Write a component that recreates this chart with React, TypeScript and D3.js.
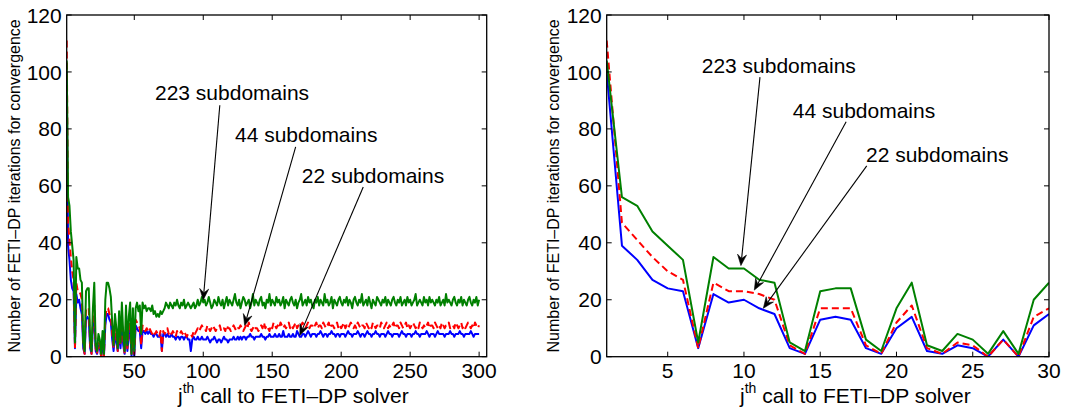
import React from "react";
import * as d3 from "d3";

// ---------- data ----------
// first 30 calls (also shown in the right panel)
const green30 = [104,56,53,44,39,34,5,35,31,31,27,26,5,2,23,24,24,6,2,17,26,4,2,8,6,1,9,1,20,26];
const red30 = [111,47,41,35,30,27,3,26,23,23,22,20,4,1,17,17,17,4,1,12,18,3,1,5,4,0,6,0,14,17];
const blue30 = [100,39,34,27,24,23,3,22,19,20,17,15,3,1,13,14,13,3,1,10,14,2,1,4,3,0,6,0,11,15];

// calls 31..300 (left panel only)
const greenTail = [
  26,24,21,12,4,15,10,3,16,5, 19,8,2,18,4,14,19,1,17,2,
  17,19,16,18,8,19,17,18,16,17, 17,16,18,15,16,14,15,14,16,15,
  16,17,19,18,17,19,18,17,19,18, 20,18,17,19,18,20,17,18,19,18,
  17,18,19,17,18,20,18,19,21,19,
  20,18,19,21,19,17,18,20,19,18,21,19,18,20,17,19,21,18,20,19,
  18,20,22,19,18,20,17,19,21,20,18,19,20,17,19,22,18,20,19,18,
  20,21,18,19,17,20,19,22,18,20,19,18,21,19,20,18,19,21,17,20,
  19,18,20,21,19,18,20,17,19,20,22,18,19,20,18,21,19,20,18,17,
  20,19,21,18,20,19,18,22,19,20,18,19,21,17,20,19,18,20,21,19,
  18,20,19,21,18,20,19,17,20,21,19,18,20,19,22,18,19,20,18,21,
  19,17,20,19,18,21,20,19,18,20,19,21,18,20,19,18,20,21,19,18,
  20,19,21,18,19,20,18,21,19,20,18,19,20,22,18,19,20,19,18,21,
  19,20,18,21,19,20,19,18,20,19,21,18,19,20,18,22,19,20,19,18,
  20,21,19,18,20,19,21,18,20,19,18,20,21,19,18,20,19,21,18,20,
];
const redTail = [
  17,15,14,8,3,10,7,2,11,4, 12,6,1,11,3,9,12,1,10,1,
  13,12,11,10,4,11,10,9,10,9, 10,9,8,9,8,9,8,7,9,2,
  9,8,9,10,8,9,8,9,8,7, 9,8,8,9,8,9,8,7,8,8,
  8,7,9,8,9,10,9,10,11,10,
  10,9,11,10,9,10,11,10,9,10,10,11,9,10,10,9,11,10,10,9,
  10,11,10,9,10,10,11,10,9,10,11,10,12,10,9,10,11,10,10,9,
  10,11,10,12,10,11,10,9,11,10,12,11,10,11,10,12,11,10,11,10,
  11,12,10,11,10,11,12,10,11,10,11,12,11,10,11,12,10,11,11,10,
  11,12,10,11,11,10,12,11,10,11,12,10,11,11,10,11,12,10,11,10,
  11,12,10,11,10,11,12,11,10,11,10,12,11,10,11,11,10,12,11,10,
  11,10,12,11,10,11,11,10,12,11,10,11,12,10,11,10,11,12,10,11,
  11,10,12,11,10,11,12,10,11,10,11,12,11,10,11,10,12,11,10,11,
  10,11,12,10,11,11,10,12,11,10,11,10,12,11,10,11,11,12,10,11,
  11,10,12,11,10,11,12,10,11,10,11,12,11,10,11,10,12,11,10,11,
];
const blueTail = [
  15,13,12,6,2,8,5,2,9,3, 10,4,1,9,2,7,10,0,9,0,
  11,10,9,9,3,9,9,8,9,8, 9,8,8,7,8,8,7,7,8,2,
  8,8,7,8,7,7,8,7,7,6, 7,7,6,7,7,6,7,7,6,6,
  2,6,7,6,6,7,6,6,7,6,
  6,6,7,6,5,6,6,7,6,5,6,6,5,6,7,6,6,5,6,6,
  6,7,6,6,7,6,7,6,7,7,6,7,7,8,7,7,6,7,7,7,
  7,8,7,7,6,7,7,8,7,7,7,8,7,7,8,7,7,9,7,7,
  7,8,7,7,8,7,7,9,8,7,7,8,8,7,8,9,8,7,8,8,
  8,7,8,8,9,8,7,8,8,7,8,8,9,8,8,7,8,8,7,8,
  8,8,7,8,9,8,8,7,8,8,8,9,8,7,8,8,7,8,9,8,
  8,7,8,8,9,8,8,7,8,8,8,7,8,9,8,8,7,8,8,8,
  8,7,8,9,8,8,7,8,8,8,7,8,8,9,8,8,7,8,8,8,
  8,9,8,7,8,8,8,7,8,9,8,8,8,8,7,8,8,8,9,8,
  8,7,8,8,8,9,8,8,7,8,8,8,8,9,8,7,8,8,8,8,
];

const leftXTicks = [50, 100, 150, 200, 250, 300];
const rightXTicks = [5, 10, 15, 20, 25, 30];
const yTicks = [0, 20, 40, 60, 80, 100, 120];

const labels = ["223 subdomains", "44 subdomains", "22 subdomains"];
// annotation positions in data coordinates: text start, arrow tail, arrow tip
const leftTextX = [65, 123, 171.4];
const leftTextY = [90, 75.3, 61];
const leftTailX = [112, 167, 216];
const leftTailY = [88.3, 73.7, 59.6];
const leftTipX = [100, 130, 170];
const leftTipY = [20, 11, 7.5];

const rightTextX = [7.23, 13.2, 18.0];
const rightTextY = [99.8, 84, 68.4];
const rightTailX = [11.05, 16.7, 18.05];
const rightTailY = [98.2, 82.5, 67];
const rightTipX = [9.8, 10.68, 11.27];
const rightTipY = [32, 23.4, 17];

const FONT = "'Liberation Sans', Arial, Helvetica, sans-serif";
const TOP = 15;
const BOTTOM = 356.7;

type PanelProps = {
  x0: number; x1: number; xDomain: [number, number]; xTicks: number[];
  green: number[]; red: number[]; blue: number[];
  textX: number[]; textY: number[]; tailX: number[]; tailY: number[]; tipX: number[]; tipY: number[];
  yLabelX: number; xLabelX: number; id: string;
};

function Arrow({ x1, y1, x2, y2 }: { x1: number; y1: number; x2: number; y2: number }) {
  const ang = Math.atan2(y2 - y1, x2 - x1);
  const L = 11, Wd = 4.5, notch = 7;
  const ux = Math.cos(ang), uy = Math.sin(ang);
  const px = -uy, py = ux;
  const bx = x2 - ux * L, by = y2 - uy * L;
  const nx = x2 - ux * notch, ny = y2 - uy * notch;
  const head = `M${x2},${y2} L${bx + px * Wd},${by + py * Wd} L${nx},${ny} L${bx - px * Wd},${by - py * Wd} Z`;
  return (
    <g>
      <line x1={x1} y1={y1} x2={nx} y2={ny} stroke="#000" strokeWidth={1.1} />
      <path d={head} fill="#000" stroke="#000" strokeWidth={0.6} strokeLinejoin="miter" />
    </g>
  );
}

function Panel(p: PanelProps) {
  const x = d3.scaleLinear().domain(p.xDomain).range([p.x0, p.x1]);
  const y = d3.scaleLinear().domain([0, 120]).range([BOTTOM, TOP]);
  const line = d3.line<number>().x((_, i) => x(i + 1)).y((d) => y(d));
  const tl = 5;
  return (
    <g fontFamily={FONT}>
      <defs>
        <clipPath id={p.id}>
          <rect x={p.x0} y={TOP - 2} width={p.x1 - p.x0} height={BOTTOM - TOP + 2} />
        </clipPath>
      </defs>
      <g clipPath={`url(#${p.id})`}>
        <path d={line(p.blue) || ""} fill="none" stroke="#0000ff" strokeWidth={2} strokeLinejoin="round" />
        <path d={line(p.red) || ""} fill="none" stroke="#ff0000" strokeWidth={2} strokeDasharray="7 4" strokeLinejoin="round" />
        <path d={line(p.green) || ""} fill="none" stroke="#008000" strokeWidth={2} strokeLinejoin="round" />
      </g>
      <rect x={p.x0} y={TOP} width={p.x1 - p.x0} height={BOTTOM - TOP} fill="none" stroke="#000" strokeWidth={1.3} />
      {yTicks.map((t) => (
        <g key={"y" + t}>
          <line x1={p.x0} x2={p.x0 + tl} y1={y(t)} y2={y(t)} stroke="#000" strokeWidth={1} />
          <line x1={p.x1} x2={p.x1 - tl} y1={y(t)} y2={y(t)} stroke="#000" strokeWidth={1} />
          <text x={p.x0 - 5} y={y(t)} dy="0.36em" textAnchor="end" fontSize={21} fill="#000">{t}</text>
        </g>
      ))}
      {p.xTicks.map((t) => (
        <g key={"x" + t}>
          <line x1={x(t)} x2={x(t)} y1={BOTTOM} y2={BOTTOM - tl} stroke="#000" strokeWidth={1} />
          <line x1={x(t)} x2={x(t)} y1={TOP} y2={TOP + tl} stroke="#000" strokeWidth={1} />
          <text x={x(t)} y={378} textAnchor="middle" fontSize={21} fill="#000">{t}</text>
        </g>
      ))}
      <text transform={`translate(${p.yLabelX},${(TOP + BOTTOM) / 2}) rotate(-90)`} textAnchor="middle" fontSize={16} fill="#000">
        Number of FETI–DP iterations for convergence
      </text>
      <text x={p.xLabelX} y={403} fontSize={21} fill="#000">
        j<tspan fontSize={14} dy={-10}>th</tspan><tspan dy={10}> call to FETI–DP solver</tspan>
      </text>
      {labels.map((lab, i) => (
        <g key={lab}>
          <text x={x(p.textX[i])} y={y(p.textY[i])} fontSize={21} fill="#000">{lab}</text>
          <Arrow x1={x(p.tailX[i])} y1={y(p.tailY[i])} x2={x(p.tipX[i])} y2={y(p.tipY[i])} />
        </g>
      ))}
    </g>
  );
}

export default function App() {
  const leftGreen = [...green30, ...greenTail];
  const leftRed = [...red30, ...redTail];
  const leftBlue = [...blue30, ...blueTail];
  return (
    <svg width={1073} height={412} style={{ position: "absolute", left: 0, top: 0, background: "#fff" }}>
      <rect width={1073} height={412} fill="#fff" />
      <Panel id="clipL" x0={66.7} x1={486.7} xDomain={[1, 305.5]} xTicks={leftXTicks}
        green={leftGreen} red={leftRed} blue={leftBlue}
        textX={leftTextX} textY={leftTextY} tailX={leftTailX} tailY={leftTailY} tipX={leftTipX} tipY={leftTipY}
        yLabelX={19.8} xLabelX={178} />
      <Panel id="clipR" x0={606.7} x1={1049} xDomain={[1, 30]} xTicks={rightXTicks}
        green={green30} red={red30} blue={blue30}
        textX={rightTextX} textY={rightTextY} tailX={rightTailX} tailY={rightTailY} tipX={rightTipX} tipY={rightTipY}
        yLabelX={558.5} xLabelX={740} />
    </svg>
  );
}
